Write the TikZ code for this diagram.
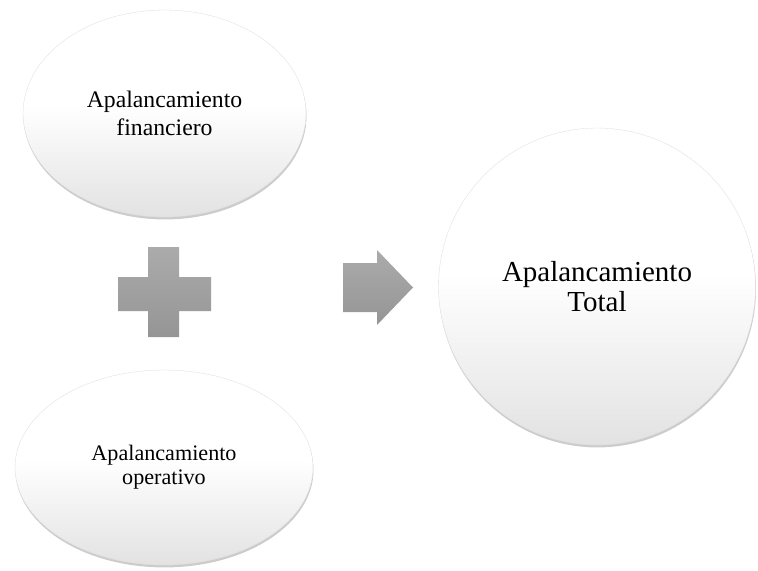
\documentclass[tikz,border=0pt]{standalone}
\usepackage{fontspec}
\setmainfont{Liberation Serif}
\usepackage{xcolor}
\usepackage{tikz}
\usetikzlibrary{positioning,shapes.geometric,shadows}
\definecolor{levshade}{HTML}{DDDDDD}
\definecolor{levrim}{HTML}{B0B0B0}
\definecolor{signtop}{HTML}{ABABAB}
\definecolor{signbot}{HTML}{959595}
\pgfdeclareverticalshading{levfade}{100bp}{color(0bp)=(levshade); color(20bp)=(levshade);
  color(52bp)=(white); color(100bp)=(white)}

\begin{document}
\begin{tikzpicture}[x=0.02cm,y=-0.02cm,
  levbubble/.style={ellipse,inner sep=0pt,align=center,draw=levrim!40,line width=0.2pt,
    shading=levfade,
    drop shadow={opacity=0.4,shadow xshift=0.3pt,shadow yshift=-1.4pt}},
  signshape/.style={top color=signtop,bottom color=signbot,draw=none}
]
\useasboundingbox (0,0) rectangle (758,571);
% the two parts
\node[levbubble,minimum width=5.66cm,minimum height=4.14cm,font=\fontsize{13.5}{16}\selectfont]
  (fin) at (164.5,113.5) {Apalancamiento\\financiero};
\node[levbubble,minimum width=5.96cm,minimum height=3.9cm,font=\fontsize{12.6}{13.6}\selectfont]
  (ope) at (164,467.5) {Apalancamiento\\operativo};
% the result
\node[levbubble,circle,minimum size=6.34cm,font=\fontsize{16.5}{17.5}\selectfont]
  (tot) at (597,286.5) {Apalancamiento\\Total};
% plus sign
\path[signshape] (148,247) -- (179,247) -- (179,277) -- (211,277) -- (211,311) -- (179,311)
  -- (179,337) -- (148,337) -- (148,311) -- (118,311) -- (118,277) -- (148,277) -- cycle;
% arrow
\path[signshape] (343,263) -- (377,263) -- (377,250) -- (413,287.5) -- (377,325) -- (377,312)
  -- (343,312) -- cycle;
\end{tikzpicture}
\end{document}
